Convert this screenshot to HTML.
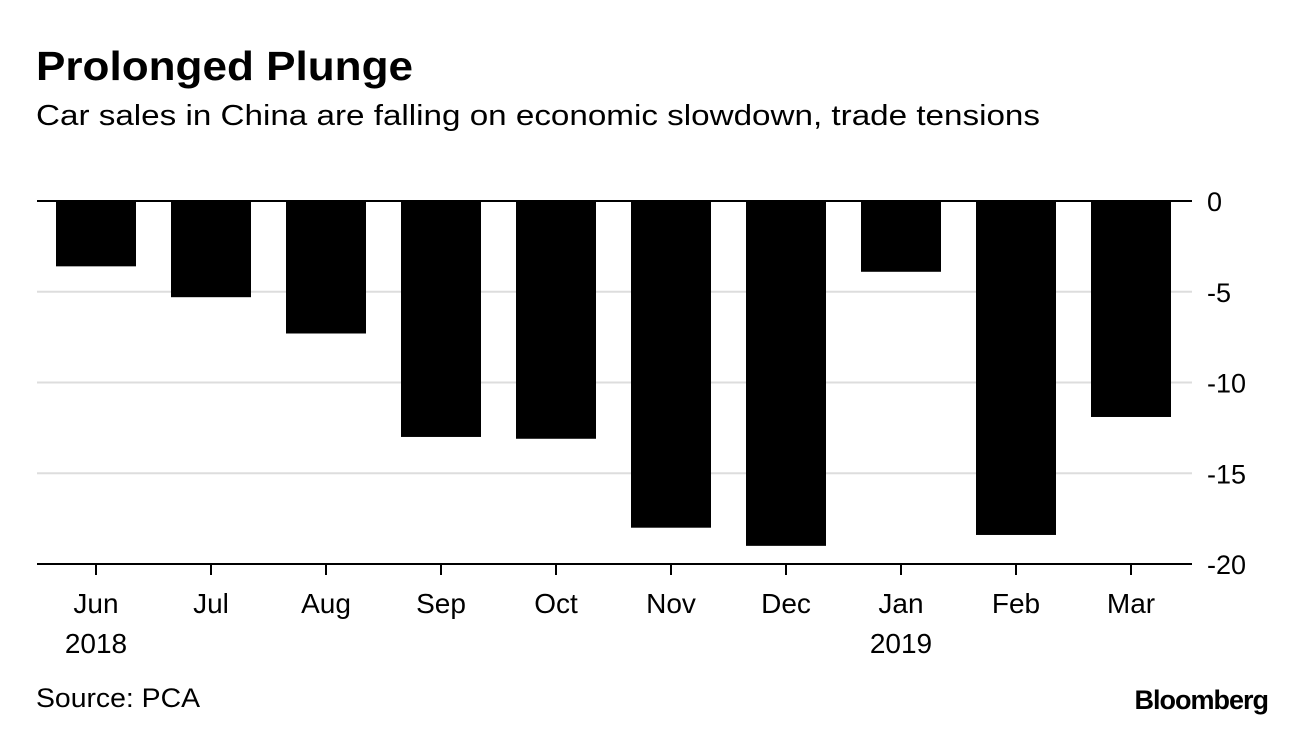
<!DOCTYPE html>
<html><head><meta charset="utf-8"><style>
body{margin:0;background:#fff;width:1296px;height:730px;overflow:hidden;font-family:"Liberation Sans",sans-serif}
</style></head><body>
<svg width="1296" height="730">
<text x="36" y="80" font-size="41" font-weight="bold" fill="#000" textLength="377" lengthAdjust="spacingAndGlyphs">Prolonged Plunge</text>
<text x="36" y="125" font-size="29" fill="#000" textLength="1004" lengthAdjust="spacingAndGlyphs">Car sales in China are falling on economic slowdown, trade tensions</text>
<g id="grid"></g><g id="bars"></g><g id="xaxis"></g>
<text x="36" y="707" font-size="27" fill="#000" textLength="164" lengthAdjust="spacingAndGlyphs">Source: PCA</text>
<text x="1268" y="709" font-size="27" font-weight="bold" text-anchor="end" letter-spacing="-1" fill="#000">Bloomberg</text>
</svg>
<script>
const categories=["Jun","Jul","Aug","Sep","Oct","Nov","Dec","Jan","Feb","Mar"];
const yearLabels=["2018","","","","","","","2019","",""];
const values=[-3.6,-5.3,-7.3,-13.0,-13.1,-18.0,-19.0,-3.9,-18.4,-11.9];
const yTicks=[0,-5,-10,-15,-20];
const NS="http://www.w3.org/2000/svg";
const left=38.5,band=115,barW=80,y0=201,yPer=(564-201)/20;
const y=v=>y0-v*yPer;
const xc=i=>left+band*i+band/2;
function mk(t,a,p){const e=document.createElementNS(NS,t);for(const k in a)e.setAttribute(k,a[k]);p.appendChild(e);return e;}
const grid=document.getElementById('grid'),bars=document.getElementById('bars'),xa=document.getElementById('xaxis');
yTicks.forEach(t=>{
  const dark=(t===0||t===-20);
  const l=mk('line',{x1:37,x2:1192,y1:y(t),y2:y(t),stroke:dark?'#000':'#ddd','stroke-width':2},grid);
  
  
  const tx=mk('text',{x:1207,y:y(t)+10,'font-size':27,fill:'#000'},grid);
  tx.textContent=t===0?'0':String(t);
  
  
});
values.forEach((v,i)=>{
  const r=mk('rect',{x:xc(i)-barW/2,y:y(0),width:barW,height:y(v)-y(0),fill:'#000'},bars);
  
  
  const tk=mk('line',{x1:xc(i),x2:xc(i),y1:564,y2:575,stroke:'#000','stroke-width':2},xa);
  
  
  const lb=mk('text',{x:xc(i),y:613,'font-size':28,'text-anchor':'middle',fill:'#000'},xa);
  lb.textContent=categories[i];
  
  
  if(yearLabels[i]){
    const yl=mk('text',{x:xc(i),y:653,'font-size':28,'text-anchor':'middle',fill:'#000'},xa);
    yl.textContent=yearLabels[i];
    
    
  }
});
</script>
</body></html>
